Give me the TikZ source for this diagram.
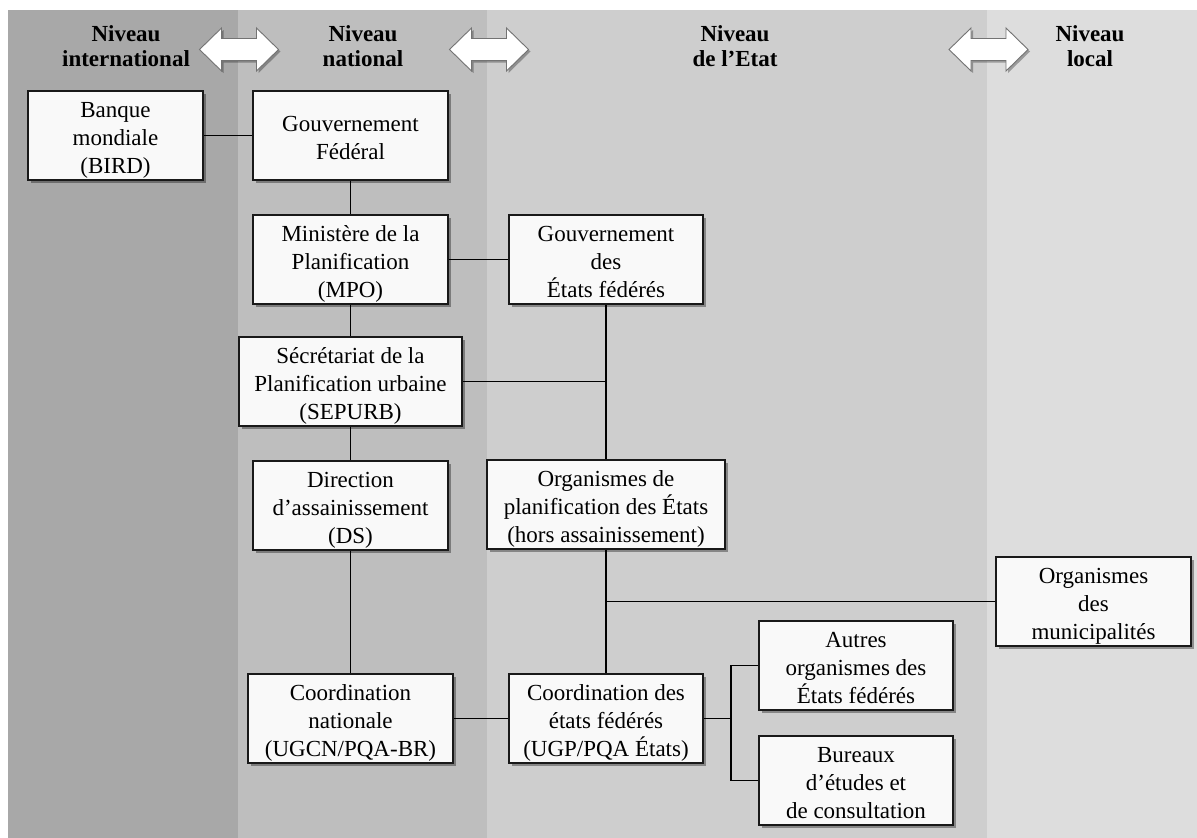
\documentclass[tikz,border=0pt]{standalone}
\usepackage{fontspec}
\setmainfont{Liberation Serif}
\usetikzlibrary{shadows}
\definecolor{colA}{RGB}{168,168,168}
\definecolor{colB}{RGB}{190,190,190}
\definecolor{colC}{RGB}{206,206,206}
\definecolor{colD}{RGB}{221,221,221}
\definecolor{boxfill}{RGB}{249,249,249}
% centred lines with fixed spacing and fixed first-line height / last-line depth
\newcommand\ml[1]{\vbox{\baselineskip=28pt\lineskiplimit=-100pt\lineskip=0pt%
  \def\\{\cr}\halign{\hfil##\hfil\cr\rule{0pt}{25.2pt}#1\rule[-6pt]{0pt}{6pt}\crcr}}}
\tikzset{
  orgbox/.style={draw=black!90, line width=1.6pt, fill=boxfill,
    minimum height=89pt, inner sep=0pt,
    font=\fontsize{23}{28}\selectfont,
    drop shadow={shadow xshift=3pt, shadow yshift=-3pt, fill=black, opacity=0.35}},
  header/.style={align=center, font=\fontsize{23}{25}\selectfont\bfseries},
  levelarrow/.style={draw=black!55, line width=0.9pt, fill=white,
    drop shadow={shadow xshift=2pt, shadow yshift=-2pt, fill=black, opacity=0.3}},
  link/.style={line width=1.8pt, draw=black}
}
\begin{document}
\begin{tikzpicture}[x=1pt,y=-1pt]
\useasboundingbox (0,0) rectangle (1197,838);
\fill[white] (0,0) rectangle (1197,838);
% columns
\fill[colA] (8,10) rectangle (238,838);
\fill[colB] (238,10) rectangle (487,838);
\fill[colC] (487,10) rectangle (987,838);
\fill[colD] (987,10) rectangle (1197,838);
% headers
\node[header] (hint) at (126,46.5) {Niveau\\international};
\node[header] (hnat) at (363,46.5) {Niveau\\national};
\node[header] (hetat) at (735,46.5) {Niveau\\de l’Etat};
\node[header] (hloc) at (1090,46.5) {Niveau\\local};
% double arrows between levels
\foreach \cx in {239,489,988.5}{
  \path[levelarrow] ({\cx-39.5},49.5) -- ({\cx-17.5},28) -- ({\cx-17.5},38.5)
    -- ({\cx+17.5},38.5) -- ({\cx+17.5},28) -- ({\cx+39.5},49.5)
    -- ({\cx+17.5},71) -- ({\cx+17.5},60.5) -- ({\cx-17.5},60.5)
    -- ({\cx-17.5},71) -- cycle;
}
% boxes
\node[orgbox, minimum width=175pt] (banque) at (115.5,135.5) {\ml{Banque\\mondiale\\(BIRD)}};
\node[orgbox, minimum width=195pt] (gouvfed) at (350.5,135.5) {\ml{Gouvernement\\Fédéral}};
\node[orgbox, minimum width=195pt] (mpo) at (350.5,259.5) {\ml{Ministère de la\\Planification\\(MPO)}};
\node[orgbox, minimum width=194pt] (gouvet) at (606,259.5) {\ml{Gouvernement\\des\\États fédérés}};
\node[orgbox, minimum width=223pt] (sepurb) at (350.5,381.5) {\ml{Sécrétariat de la\\Planification urbaine\\(SEPURB)}};
\node[orgbox, minimum width=195pt] (ds) at (350.5,505.5) {\ml{Direction\\d’assainissement\\(DS)}};
\node[orgbox, minimum width=238pt] (orgplan) at (606,504.5) {\ml{Organismes de\\planification des États\\(hors assainissement)}};
\node[orgbox, minimum width=205pt] (ugcn) at (350.5,718.5) {\ml{Coordination\\nationale\\(UGCN/PQA-BR)}};
\node[orgbox, minimum width=194pt] (ugp) at (606,718.5) {\ml{Coordination des\\états fédérés\\(UGP/PQA États)}};
\node[orgbox, minimum width=194pt] (autres) at (856,665.5) {\ml{Autres\\organismes des\\États fédérés}};
\node[orgbox, minimum width=194pt] (bureaux) at (856,780.5) {\ml{Bureaux\\d’études et\\de consultation}};
\node[orgbox, minimum width=195pt] (munic) at (1093.5,601.5) {\ml{Organismes\\des\\municipalités}};
% junctions
\coordinate (j1) at (606,381.5);
\coordinate (j2) at (606,601.5);
\coordinate (j3) at (731,718.5);
% links
\draw[link] (banque.east) -- (gouvfed.west);
\draw[link] (gouvfed.south) -- (mpo.north);
\draw[link] (mpo.east) -- (gouvet.west);
\draw[link] (mpo.south) -- (sepurb.north);
\draw[link] (gouvet.south) -- (orgplan.north);
\draw[link] (sepurb.east) -- (j1);
\draw[link] (sepurb.south) -- (ds.north);
\draw[link] (ds.south) -- (ugcn.north);
\draw[link] (orgplan.south) -- (ugp.north);
\draw[link] (j2) -- (munic.west);
\draw[link] (ugcn.east) -- (ugp.west);
\draw[link] (ugp.east) -- (j3);
\draw[link] (autres.west) -| (j3) |- (bureaux.west);
\end{tikzpicture}
\end{document}
